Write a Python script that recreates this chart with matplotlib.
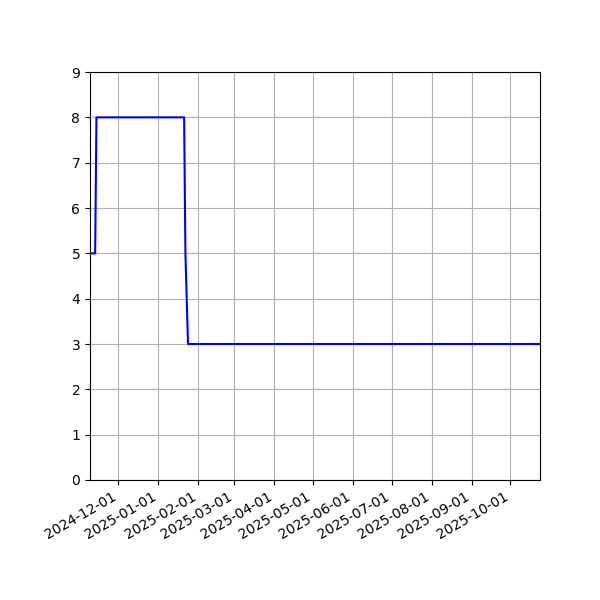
import matplotlib
matplotlib.use("Agg")
import matplotlib.pyplot as plt
import matplotlib.dates as mdates
import numpy as np

dates = np.array(
    [
        "2024-11-09",
        "2024-11-13",
        "2024-11-14",
        "2025-01-21",
        "2025-01-22",
        "2025-01-24",
        "2025-10-24",
    ],
    dtype="datetime64[D]",
)
values = [5, 5, 8, 8, 5, 3, 3]

fig, ax = plt.subplots(figsize=(6, 6), dpi=100)
ax.plot(dates, values, color="blue")

ax.set_xlim(dates[0], dates[-1])
ax.set_ylim(0, 9)
ax.xaxis.set_major_locator(mdates.MonthLocator())
ax.xaxis.set_major_formatter(mdates.DateFormatter("%Y-%m-%d"))
ax.grid(True)

fig.autofmt_xdate()
plt.subplots_adjust(left=0.15, right=0.9, top=0.88, bottom=0.2)

plt.savefig("out.png")
